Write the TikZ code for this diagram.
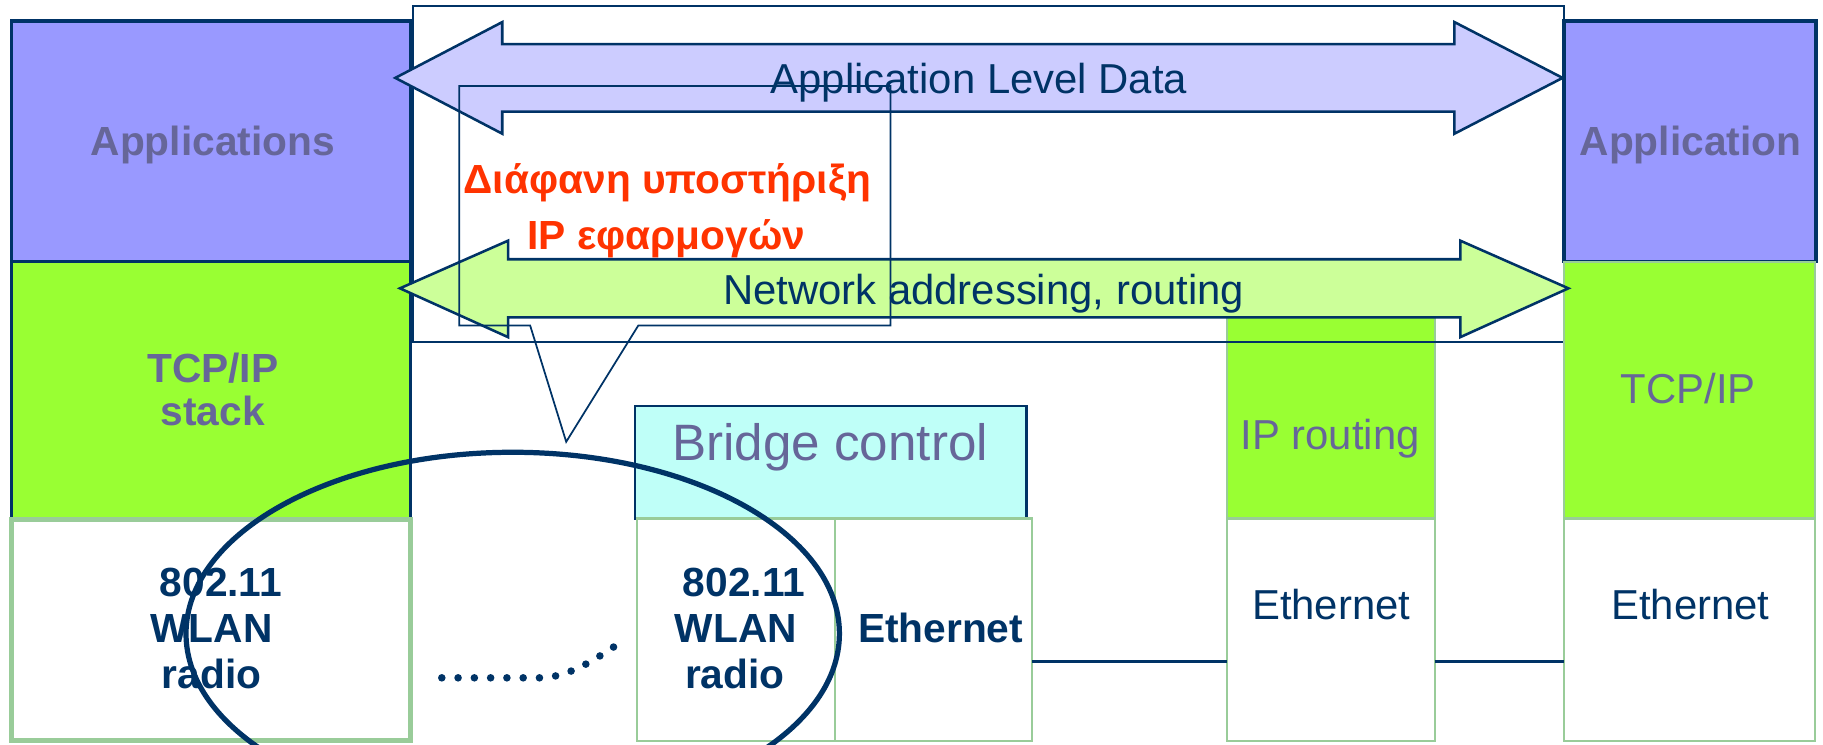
\documentclass[tikz,border=0pt]{standalone}
\usepackage{fontspec}
\setmainfont{Liberation Sans}
\usetikzlibrary{calc}
\definecolor{navy}{RGB}{0,51,102}
\definecolor{purp}{RGB}{153,153,255}
\definecolor{appfill}{RGB}{204,204,255}
\definecolor{lime}{RGB}{153,255,51}
\definecolor{palelime}{RGB}{204,255,153}
\definecolor{cyanfill}{RGB}{191,255,248}
\definecolor{lgreen}{RGB}{153,204,153}
\definecolor{textpurp}{RGB}{102,102,153}
\definecolor{calloutred}{RGB}{255,51,0}
\begin{document}
\begin{tikzpicture}[x=1pt,y=-1pt,
  bx/.style={rectangle, inner sep=0pt, outer sep=0pt, anchor=north west},
  lbl/.style={inner sep=0pt, anchor=base},
  rg/.style={font=\fontsize{36}{40}\selectfont},
  bd/.style={font=\bfseries\fontsize{35}{40}\selectfont},
  arr/.style={draw=navy, line width=2.2pt, line join=miter},
  navybox/.style={bx, draw=navy, line width=3pt},
  greenbox/.style={bx, draw=lgreen, line width=1.8pt},
]
\useasboundingbox (0,0) rectangle (1568,640);
\clip (0,0) rectangle (1568,640);

% IP routing box (beneath frame and arrows)
\node[greenbox, fill=lime, minimum width=179pt, minimum height=184pt] (iprt) at (1055,262) {};
% frame
\node[bx, draw=navy, line width=2pt, minimum width=990pt, minimum height=289pt] (frame) at (355,5) {};

% left stack
\node[navybox, fill=purp, minimum width=343pt, minimum height=207pt] (apps) at (10,18) {};
\node[navybox, fill=lime, minimum width=343pt, minimum height=222pt] (tcpl) at (10,225) {};
\node[bx, draw=lgreen, fill=white, line width=4.5pt, minimum width=343pt, minimum height=190pt] (wlanl) at (10,447) {};

% bridge
\node[bx, draw=navy, line width=2pt, fill=cyanfill, minimum width=337pt, minimum height=97pt] (bctl) at (546,349) {};
\node[greenbox, fill=white, minimum width=170pt, minimum height=191pt] (wlanb) at (548,446) {};
\node[greenbox, fill=white, minimum width=170pt, minimum height=191pt] (ethb) at (718,446) {};

% router
\node[greenbox, fill=white, minimum width=179pt, minimum height=191pt] (ethr) at (1055,446) {};

% right stack
\node[navybox, fill=purp, minimum width=217pt, minimum height=207pt] (appr) at (1345,18) {};
\node[greenbox, fill=lime, minimum width=216pt, minimum height=221pt] (tcpr) at (1345,225) {};
\node[greenbox, fill=white, minimum width=216pt, minimum height=191pt] (ethx) at (1345,446) {};

% links
\coordinate (lk) at (0,569);
\draw[navy, line width=2pt] (ethb.east |- lk) -- (ethr.west |- lk);
\draw[navy, line width=2pt] (ethr.east |- lk) -- (ethx.west |- lk);

% arrows
\draw[arr, fill=appfill] (340,67) coordinate (a1l) -- (432,19) -- (432,38) -- (1251,38) -- (1251,19) -- (1344,67) coordinate (a1r) -- (1251,115) -- (1251,96) -- (432,96) -- (432,115) -- cycle;
\draw[arr, fill=palelime] (344,248) coordinate (a2l) -- (437,207) -- (437,223) -- (1256,223) -- (1256,207) -- (1349,248) coordinate (a2r) -- (1256,290) -- (1256,273) -- (437,273) -- (437,290) -- cycle;

\node[lbl, rg, text=navy] (tald) at (842,80) {Application Level Data};
\node[lbl, rg, text=navy] (tnar) at (846,262) {Network addressing, routing};

% callout
\draw[navy, line width=1.5pt, line join=miter] (395,74) -- (766,74) -- (766,280) -- (549,280) -- (487,380) coordinate (ctip) -- (456,280) -- (395,280) -- cycle;
\node[lbl, text=calloutred, font=\bfseries\fontsize{35}{40}\selectfont] (cl1) at (574,166) {Διάφανη υποστήριξη};
\node[lbl, text=calloutred, font=\bfseries\fontsize{35}{40}\selectfont] (cl2) at (573,215) {IP εφαρμογών};

% labels left
\node[lbl, bd, text=textpurp] (tApps) at (183,134) {Applications};
\node[lbl, bd, text=textpurp] (tTcp1) at (183,329) {TCP/IP};
\node[lbl, bd, text=textpurp] (tTcp2) at (183,366) {stack};
\node[lbl, bd, text=navy] (tw1) at (190,513) {802.11};
\node[lbl, bd, text=navy] (tw2) at (182,553) {WLAN};
\node[lbl, bd, text=navy] (tw3) at (182,592) {radio};

% labels bridge
\node[lbl, text=textpurp, font=\fontsize{44}{48}\selectfont] (tbc) at (714,396) {Bridge control};
\node[lbl, bd, text=navy] (tb1) at (640,513) {802.11};
\node[lbl, bd, text=navy] (tb2) at (633,553) {WLAN};
\node[lbl, bd, text=navy] (tb3) at (632,592) {radio};
\node[lbl, bd, text=navy] (tbe) at (809,553) {Ethernet};

% labels router & right
\node[lbl, rg, text=textpurp] (tipr) at (1144,387) {IP routing};
\node[lbl, rg, text=navy] (tre) at (1145,533) {Ethernet};
\node[lbl, bd, text=textpurp] (tapr) at (1454,134) {Application};
\node[lbl, rg, text=textpurp] (ttr) at (1452,347) {TCP/IP};
\node[lbl, rg, text=navy] (txe) at (1454,533) {Ethernet};

% ellipse and dotted link
\draw[navy, line width=4.5pt] (441,545) ellipse [x radius=281pt, y radius=156pt];
\coordinate (d0) at (380,583);
\coordinate (d1) at (466,583);
\coordinate (d2) at (530,555);
\draw[navy, line width=6.5pt, line cap=round, dash pattern=on 0pt off 14pt] (d0) -- (d1) .. controls (490,582) and (512,567) .. (d2);
\end{tikzpicture}
\end{document}
